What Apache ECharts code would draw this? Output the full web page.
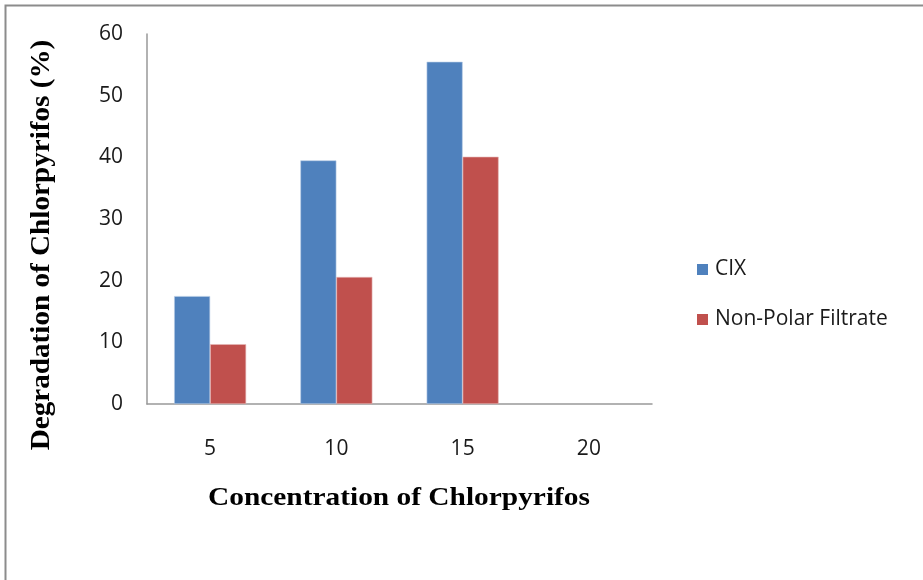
<!DOCTYPE html>
<html>
<head>
<meta charset="utf-8">
<script src="https://cdn.jsdelivr.net/npm/echarts@6/dist/echarts.min.js"></script>
<style>
  html, body { margin: 0; padding: 0; background: #fff; }
  #chart { width: 923px; height: 580px; }
</style>
</head>
<body>
<div id="chart"></div>
<script>
// Chlorpyrifos concentration levels (x categories)
const categories = ['5', '10', '15', '20'];
// Degradation (%) per series
const cixValues = [17.5, 39.5, 55.5, null];
const nonPolarValues = [9.7, 20.6, 40.1, null];
const seriesNames = ['CIX', 'Non-Polar Filtrate'];
// Y axis range
const yMin = 0, yMax = 60, yStep = 10;

const labelFont = '"Open Sans", Lato, sans-serif';
const titleFont = '"Liberation Serif", "Times New Roman", serif';

const chart = echarts.init(document.getElementById('chart'), null, { renderer: 'canvas' });

chart.setOption({
  backgroundColor: '#ffffff',
  animation: false,
  grid: { left: 147, top: 34, width: 505, height: 370, containLabel: false },
  legend: {
    orient: 'vertical',
    left: 692,
    top: 254,
    itemWidth: 11,
    itemHeight: 11,
    itemGap: 29,
    icon: 'rect',
    itemStyle: { borderWidth: 0 },
    textStyle: { fontFamily: labelFont, fontSize: 21, color: '#1a1a1a', padding: [0, 0, 0, 2] },
    data: seriesNames
  },
  xAxis: {
    type: 'category',
    data: categories,
    axisLine: { lineStyle: { color: '#999999', width: 1.5 } },
    axisTick: { show: false },
    axisLabel: { margin: 35, fontFamily: labelFont, fontSize: 21, color: '#1a1a1a' },
    splitLine: { show: false }
  },
  yAxis: {
    type: 'value',
    min: yMin, max: yMax, interval: yStep,
    axisLine: { show: true, lineStyle: { color: '#999999', width: 1.5 } },
    axisTick: { show: false },
    axisLabel: { margin: 24, fontFamily: labelFont, fontSize: 21, color: '#1a1a1a' },
    splitLine: { show: false }
  },
  series: [
    {
      name: seriesNames[0],
      type: 'bar',
      data: cixValues,
      barWidth: 36,
      barGap: '0%',
      itemStyle: { color: '#4F81BD', borderColor: '#b9cde5', borderWidth: 0.6 }
    },
    {
      name: seriesNames[1],
      type: 'bar',
      data: nonPolarValues,
      barWidth: 36,
      barGap: '0%',
      itemStyle: { color: '#C0504D', borderColor: '#e6b9b8', borderWidth: 0.6 }
    }
  ],
  graphic: [
    {
      type: 'rect',
      silent: true,
      shape: { x: 5.5, y: 5.5, width: 1200, height: 1200 },
      style: { fill: 'none', stroke: '#8c8c8c', lineWidth: 2 }
    },
    {
      type: 'text',
      x: 399, y: 498,
      scaleX: 1.13,
      style: {
        text: 'Concentration of Chlorpyrifos',
        font: 'bold 26px ' + titleFont,
        fill: '#000000',
        textAlign: 'center',
        textVerticalAlign: 'middle'
      }
    },
    {
      type: 'text',
      x: 42, y: 245,
      rotation: Math.PI / 2,
      scaleX: 1.08,
      style: {
        text: 'Degradation of Chlorpyrifos (%)',
        font: 'bold 27px ' + titleFont,
        fill: '#000000',
        textAlign: 'center',
        textVerticalAlign: 'middle'
      }
    }
  ]
});
</script>
</body>
</html>
